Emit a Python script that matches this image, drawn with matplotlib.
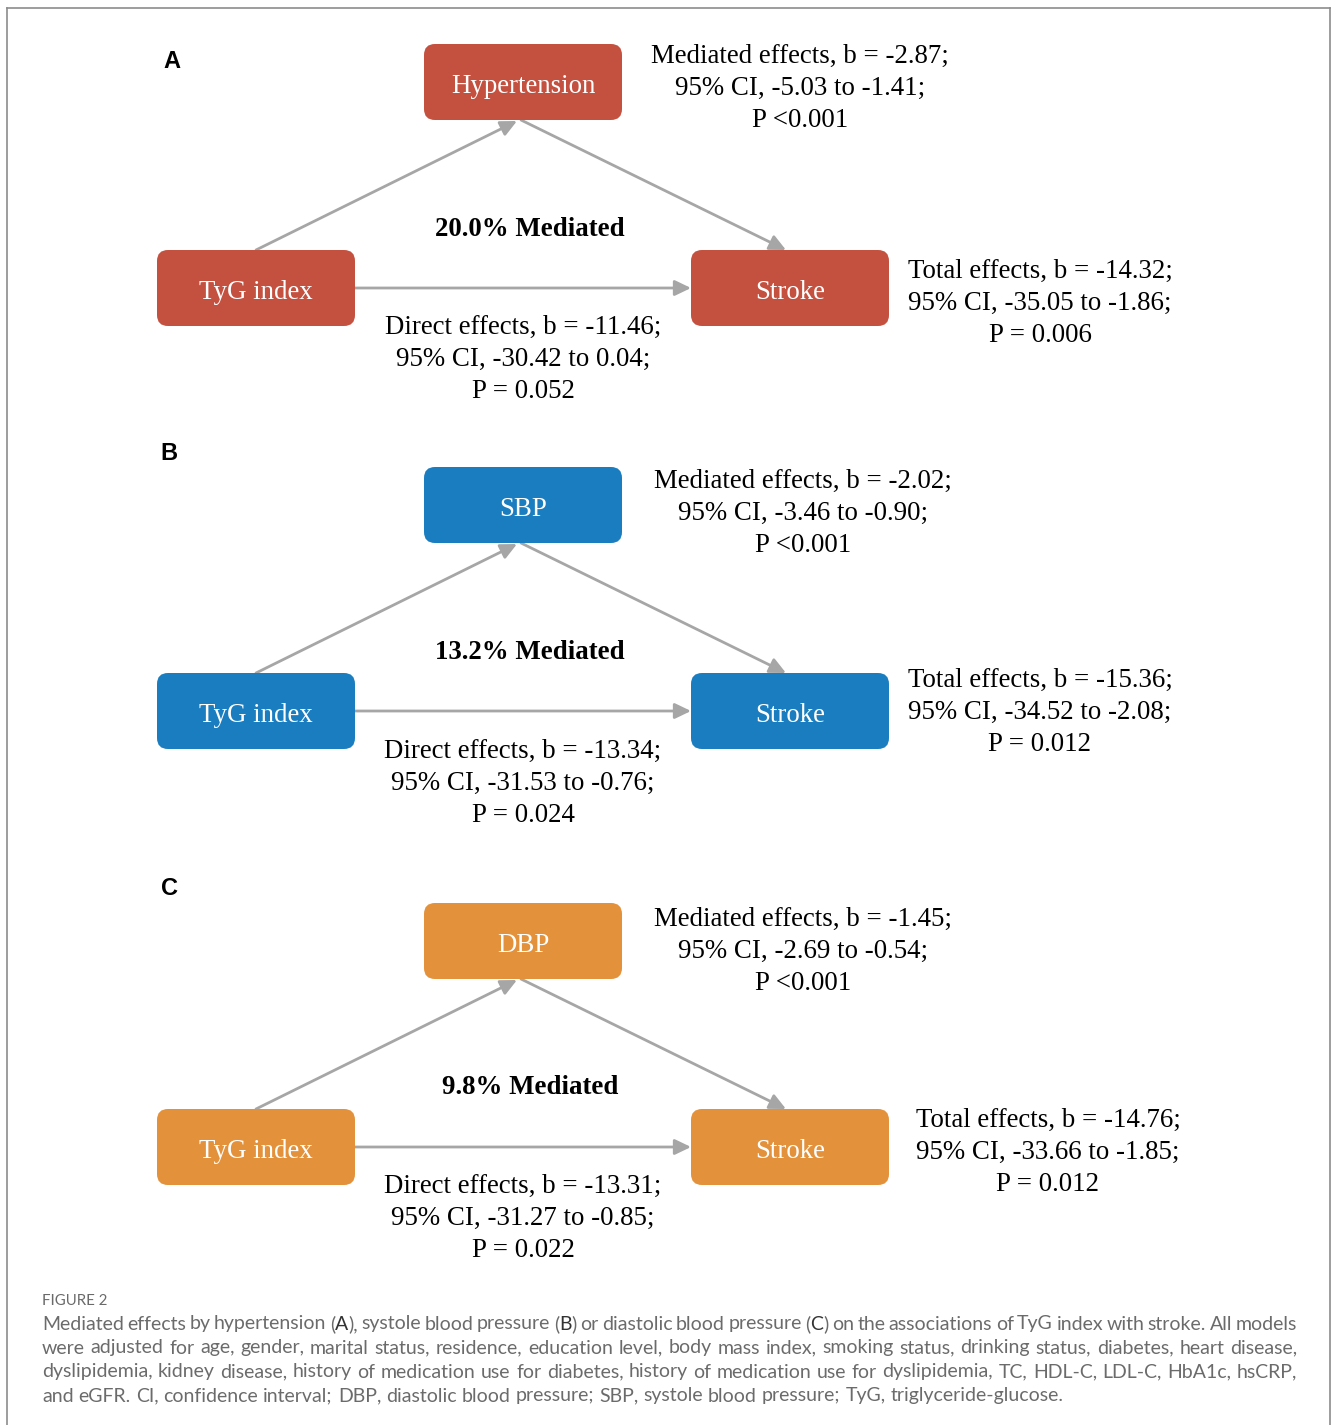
import matplotlib
matplotlib.use('Agg')
import matplotlib.pyplot as plt
from matplotlib.patches import FancyBboxPatch, FancyArrowPatch
from matplotlib.lines import Line2D

# ---------------- data ----------------
panel_labels = ['A', 'B', 'C']
mediators = ['Hypertension', 'SBP', 'DBP']
exposure = 'TyG index'
outcome = 'Stroke'
pct_mediated = ['20.0%', '13.2%', '9.8%']
med_b = ['-2.87', '-2.02', '-1.45']
med_ci_lo = ['-5.03', '-3.46', '-2.69']
med_ci_hi = ['-1.41', '-0.90', '-0.54']
med_p = ['P <0.001', 'P <0.001', 'P <0.001']
total_b = ['-14.32', '-15.36', '-14.76']
total_ci_lo = ['-35.05', '-34.52', '-33.66']
total_ci_hi = ['-1.86', '-2.08', '-1.85']
total_p = ['P = 0.006', 'P = 0.012', 'P = 0.012']
direct_b = ['-11.46', '-13.34', '-13.31']
direct_ci_lo = ['-30.42', '-31.53', '-31.27']
direct_ci_hi = ['0.04', '-0.76', '-0.85']
direct_p = ['P = 0.052', 'P = 0.024', 'P = 0.022']

caption_title = 'FIGURE 2'
caption_lines = [
    'Mediated effects by hypertension (A), systole blood pressure (B) or diastolic blood pressure (C) on the associations of TyG index with stroke. All models',
    'were adjusted for age, gender, marital status, residence, education level, body mass index, smoking status, drinking status, diabetes, heart disease,',
    'dyslipidemia, kidney disease, history of medication use for diabetes, history of medication use for dyslipidemia, TC, HDL-C, LDL-C, HbA1c, hsCRP,',
    'and eGFR. CI, confidence interval; DBP, diastolic blood pressure; SBP, systole blood pressure; TyG, triglyceride-glucose.',
]

# ---------------- style / layout ----------------
box_colors = ['#C4503F', '#1A7DC0', '#E3913A']
arrow_color = '#A6A6A6'
serif = 'Liberation Serif'
sans = 'Liberation Sans'
cap_font = 'Lato'

W, H = 1331, 1425
fig = plt.figure(figsize=(W / 100, H / 100), dpi=100)
ax = fig.add_axes([0, 0, 1, 1])
ax.set_xlim(0, W)
ax.set_ylim(H, 0)
ax.axis('off')

# frame
for (xs, ys) in [([7, 7], [8, H]), ([7, 1330], [8, 8]), ([1330, 1330], [8, H])]:
    ax.add_line(Line2D(xs, ys, color='#8c8c8c', lw=1.2))

box_w, box_h = 198, 76
top_box_y = [44, 467, 903]
bot_box_y = [250, 673, 1109]
label_y = [60, 452, 887]
label_x = [172, 169, 169]
dy = 3
med_text_y = [53, 478, 916]
med_text_x = [800, 803, 803]
pct_y = [226, 649, 1084]
pct_x = [530, 530, 530]
tot_text_y = [268, 677, 1117]
tot_text_x = [1040, 1040, 1048]
dir_text_y = [324, 748, 1183]
dir_text_x = [523, 523, 523]
line_gap = 32.3
fs = 19.4

left_x, mid_x, right_x = 157, 424, 691

def box(x, y, color, text):
    p = FancyBboxPatch((x, y), box_w, box_h,
                       boxstyle='round,pad=0,rounding_size=11',
                       fc=color, ec='none', zorder=2)
    ax.add_patch(p)
    ax.text(x + box_w / 2, y + box_h / 2 + 1 + dy, text, color='white',
            fontsize=fs, family=serif, ha='center', va='center', zorder=3)

def arrow(p1, p2):
    a = FancyArrowPatch(p1, p2, arrowstyle='-|>,head_length=0.75,head_width=0.36',
                        mutation_scale=13, color=arrow_color, lw=2,
                        shrinkA=0, shrinkB=0, zorder=1)
    ax.add_patch(a)

def block(x, y, lines, weight='normal'):
    for k, t in enumerate(lines):
        ax.text(x, y + k * line_gap + dy, t, fontsize=fs, family=serif,
                ha='center', va='center', color='black', fontweight=weight)

for i in range(3):
    ty, by = top_box_y[i], bot_box_y[i]
    ax.text(label_x[i], label_y[i] + 1, panel_labels[i], fontsize=17,
            family=sans, fontweight='bold', ha='center', va='center')
    box(mid_x, ty, box_colors[i], mediators[i])
    box(left_x, by, box_colors[i], exposure)
    box(right_x, by, box_colors[i], outcome)
    # arrows
    arrow((left_x + box_w / 2, by), (mid_x + box_w / 2 - 6, ty + box_h + 1))
    arrow((mid_x + box_w / 2 - 2, ty + box_h), (right_x + box_w / 2 - 4, by))
    arrow((left_x + box_w, by + box_h / 2), (right_x, by + box_h / 2))
    # texts
    block(med_text_x[i], med_text_y[i],
          ['Mediated effects, b = %s;' % med_b[i],
           '95%% CI, %s to %s;' % (med_ci_lo[i], med_ci_hi[i]),
           med_p[i]])
    ax.text(pct_x[i], pct_y[i] + dy, '%s Mediated' % pct_mediated[i], fontsize=fs,
            family=serif, fontweight='bold', ha='center', va='center')
    block(tot_text_x[i], tot_text_y[i],
          ['Total effects, b = %s;' % total_b[i],
           '95%% CI, %s to %s;' % (total_ci_lo[i], total_ci_hi[i]),
           total_p[i]])
    block(dir_text_x[i], dir_text_y[i],
          ['Direct effects, b = %s;' % direct_b[i],
           '95%% CI, %s to %s;' % (direct_ci_lo[i], direct_ci_hi[i]),
           direct_p[i]])

# caption
cap_color = '#6b6b6b'
ax.text(42, 1301, caption_title, fontsize=10.8, family=cap_font,
        color='#6a6a6a', ha='left', va='center')

fig.canvas.draw()
r = fig.canvas.get_renderer()
cap_fs = 14.0
L, R = 42, 1297
cap_y = [1324, 1348, 1372, 1396]

def width(t):
    o = ax.text(0, 0, t, fontsize=cap_fs, family=cap_font)
    w = o.get_window_extent(r).width
    o.remove()
    return w

def pieces(word):
    # panel letters in parentheses drawn darker
    if word.startswith('(') and len(word) >= 3 and word[1] in panel_labels and word[2] == ')':
        return [('(', cap_color), (word[1], '#333333'), (word[2:], cap_color)]
    return [(word, cap_color)]

space_w = width('a a') - width('aa')
for li, line in enumerate(caption_lines):
    words = line.split(' ')
    ws = [width(w) for w in words]
    if li < len(caption_lines) - 1:
        gap = (R - L - sum(ws)) / (len(words) - 1)
    else:
        gap = space_w
    x = L
    for w, wd in zip(words, ws):
        px = x
        for seg, col in pieces(w):
            ax.text(px, cap_y[li], seg, fontsize=cap_fs, family=cap_font,
                    color=col, ha='left', va='center')
            px += width(seg)
        x += wd + gap

fig.savefig('out.png', dpi=100)
